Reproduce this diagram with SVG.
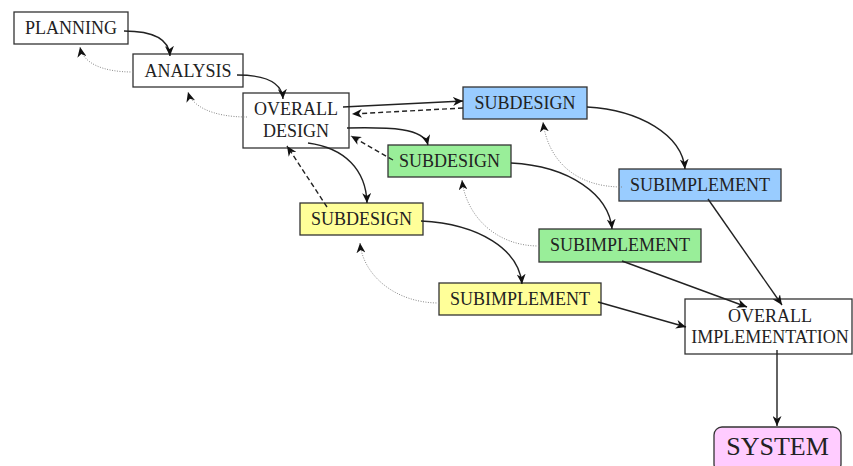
<svg xmlns="http://www.w3.org/2000/svg" width="853" height="466" viewBox="0 0 853 466">
<style>
.box{stroke:#333;stroke-width:1.3}
.w{fill:#fff}
.b{fill:#99ccff}
.g{fill:#99ee99}
.y{fill:#ffff99}
.p{fill:#ffccff}
text{font-family:"Liberation Serif","Times New Roman",serif;font-size:18px;fill:#222;text-anchor:middle}
.c{fill:none;stroke:#222;stroke-width:1.4}
.dash{stroke-dasharray:5,3}
.dot{stroke:#888;stroke-width:1;stroke-dasharray:1,1.5}
</style>
<defs>
<marker id="ah" markerUnits="userSpaceOnUse" markerWidth="11" markerHeight="9" refX="10" refY="4.5" orient="auto" viewBox="0 0 11 9">
<path d="M0,0 L10,4.5 L0,9 L3,4.5 Z" fill="#111"/>
</marker>
</defs>
<rect width="853" height="466" fill="#fff"/>
<g id="planning"><rect class="box w" x="14" y="12" width="114" height="32"/><text x="71" y="34">PLANNING</text></g>
<g id="analysis"><rect class="box w" x="133" y="54" width="110" height="33"/><text x="188" y="77">ANALYSIS</text></g>
<g id="overall-design"><rect class="box w" x="243" y="93" width="106" height="55"/><text x="296" y="115">OVERALL</text><text x="296" y="137">DESIGN</text></g>
<g id="subdesign-blue"><rect class="box b" x="463" y="87" width="124" height="32"/><text x="525" y="109">SUBDESIGN</text></g>
<g id="subdesign-green"><rect class="box g" x="388" y="145" width="123" height="32"/><text x="449.5" y="167">SUBDESIGN</text></g>
<g id="subdesign-yellow"><rect class="box y" x="300" y="203" width="123" height="32"/><text x="361.5" y="225">SUBDESIGN</text></g>
<g id="subimplement-blue"><rect class="box b" x="619" y="169" width="162" height="32"/><text x="700" y="191">SUBIMPLEMENT</text></g>
<g id="subimplement-green"><rect class="box g" x="539" y="229" width="162" height="33"/><text x="620" y="251">SUBIMPLEMENT</text></g>
<g id="subimplement-yellow"><rect class="box y" x="439" y="283" width="162" height="32"/><text x="520" y="305">SUBIMPLEMENT</text></g>
<g id="overall-implementation"><rect class="box w" x="685" y="299" width="167" height="55"/><text x="770" y="322">OVERALL</text><text x="770" y="343">IMPLEMENTATION</text></g>
<g id="system"><rect class="box p" x="714" y="427" width="127" height="45" rx="8"/><text x="777.5" y="455" style="font-size:26px">SYSTEM</text></g>
<g id="connectors">
<path class="c" d="M124,31 C152,31 169,38 170,56" marker-end="url(#ah)"/>
<path class="c" d="M237,75 C265,75 282,82 283,99" marker-end="url(#ah)"/>
<path class="c dot" d="M133,72 C102,72 83,63 80,47" marker-end="url(#ah)"/>
<path class="c dot" d="M247,117 C212,117 192,106 188,92" marker-end="url(#ah)"/>
<path class="c" d="M343,107 L463,101" marker-end="url(#ah)"/>
<path class="c dash" d="M463,108 L352,114" marker-end="url(#ah)"/>
<path class="c" d="M347,128 C390,127 424,128 428,145" marker-end="url(#ah)"/>
<path class="c dash" d="M393,160 L351,136" marker-end="url(#ah)"/>
<path class="c" d="M308,143 C345,148 366,170 367,203" marker-end="url(#ah)"/>
<path class="c dash" d="M327,207 L287,146" marker-end="url(#ah)"/>
<path class="c" d="M587,107 C640,110 682,135 685,169" marker-end="url(#ah)"/>
<path class="c dot" d="M622,187 C575,187 548,160 543,122" marker-end="url(#ah)"/>
<path class="c" d="M511,163 C570,166 609,195 612,229" marker-end="url(#ah)"/>
<path class="c dot" d="M539,246 C495,246 466,215 462,180" marker-end="url(#ah)"/>
<path class="c" d="M421,221 C480,224 519,250 522,284" marker-end="url(#ah)"/>
<path class="c dot" d="M439,303 C395,303 363,275 360,243" marker-end="url(#ah)"/>
<path class="c" d="M708,199 L782,305" marker-end="url(#ah)"/>
<path class="c" d="M622,261 L747,307" marker-end="url(#ah)"/>
<path class="c" d="M598,302 L686,327" marker-end="url(#ah)"/>
<path class="c" d="M777,350 L777,426" marker-end="url(#ah)"/>
</g>
</svg>
